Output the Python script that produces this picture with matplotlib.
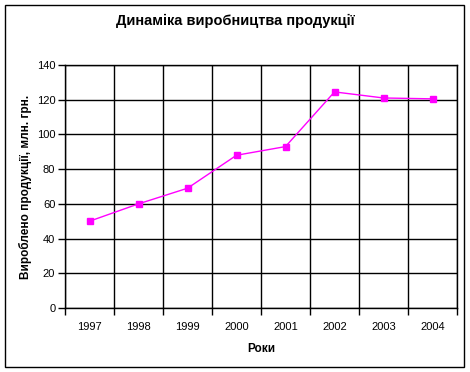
import matplotlib
matplotlib.use("Agg")
import matplotlib.pyplot as plt
from matplotlib.patches import Rectangle

years = ["1997", "1998", "1999", "2000", "2001", "2002", "2003", "2004"]
output = [50, 60, 69, 88, 93, 124.5, 121, 120.5]  # млн. грн.

plt.rcParams["font.family"] = ["Liberation Sans", "DejaVu Sans"]

fig = plt.figure(figsize=(4.7, 3.72), dpi=100)
ax = fig.add_axes([65 / 470, 64 / 372, 392 / 470, 243 / 372])

x = list(range(len(years)))
ax.plot(x, output, color="#ff00ff", lw=1, marker="s", markersize=5,
        markeredgecolor="#ff00ff", markerfacecolor="#ff00ff")

ax.set_xlim(-0.5, len(years) - 0.5)
ax.set_ylim(0, 140)
ax.set_yticks(range(0, 141, 20))

# category boundaries carry the grid and tick marks, labels sit in the middle
ax.set_xticks([i - 0.5 for i in range(len(years) + 1)])
ax.set_xticklabels([])
ax.set_xticks(x, minor=True)
ax.set_xticklabels(years, minor=True)
ax.tick_params(axis="x", which="major", length=5, width=1, color="black")
ax.tick_params(axis="x", which="minor", length=0, labelsize=8, pad=10)
ax.tick_params(axis="y", length=5, width=1, labelsize=8, pad=2)

ax.grid(True, which="major", color="black", lw=1)
for s in ax.spines.values():
    s.set_linewidth(1)

# title is centred on the whole chart, not the plot area
fig.text(0.5, 1 - 21 / 372, "Динаміка виробництва продукції", fontsize=10.5,
         fontweight="bold", ha="center", va="center")
ax.set_xlabel("Роки", fontsize=8.5, fontweight="bold", labelpad=8)
ax.set_ylabel("Вироблено продукції, млн. грн.", fontsize=8.5, fontweight="bold", labelpad=3)

# outer chart border
fig.patches.append(Rectangle((5 / 470, 5 / 372), 459 / 470, 362 / 372, transform=fig.transFigure,
                             fill=False, edgecolor="black", lw=1))

fig.savefig("out.png", dpi=100)
